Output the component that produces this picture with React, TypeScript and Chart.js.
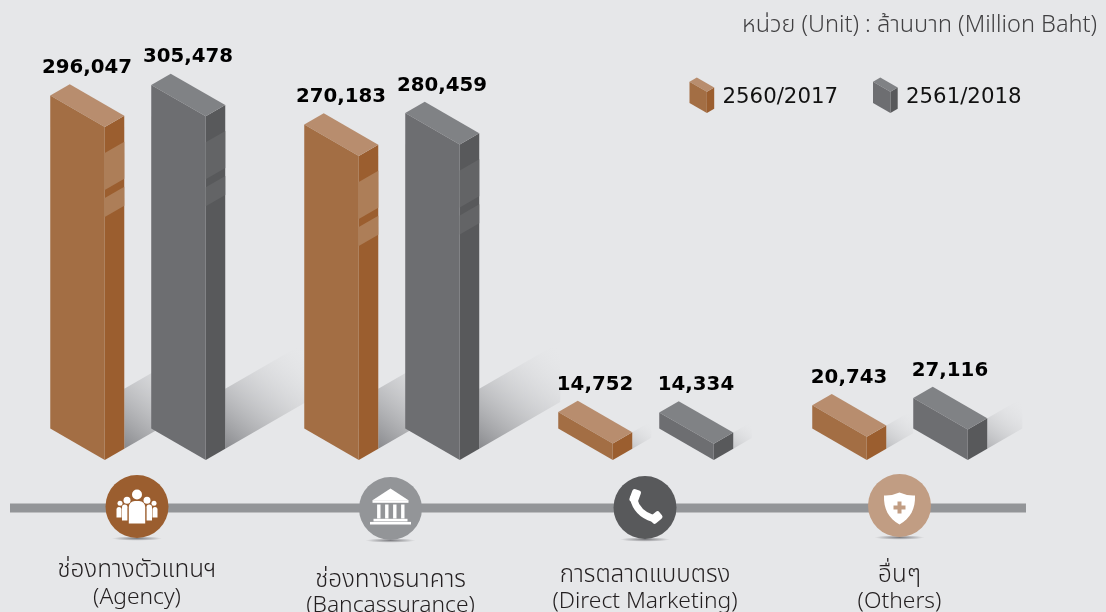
import React, { useEffect, useRef } from "react";
import { Chart, registerables } from "chart.js";

Chart.register(...registerables);

const categoriesTh = ["ช่องทางตัวแทนฯ", "ช่องทางธนาคาร", "การตลาดแบบตรง", "อื่นๆ"];
const categoriesEn = ["(Agency)", "(Bancassurance)", "(Direct Marketing)", "(Others)"];
const series2017 = [296047, 270183, 14752, 20743];
const series2018 = [305478, 280459, 14334, 27116];
const legendLabels = ["2560/2017", "2561/2018"];
const unitText = "หน่วย (Unit) : ล้านบาท (Million Baht)";

const BG = "#e6e7e9";
const THAI = '"Noto Sans Thai", "Noto Sans", "Open Sans", "DejaVu Sans", sans-serif';
const DV = '"DejaVu Sans", sans-serif';
const palette = [
  { front: "#a36e44", side: "#9b5e2f", top: "#b88d6e", band: "#ad7e58" },
  { front: "#6d6e71", side: "#58595b", top: "#808285", band: "#636466" },
];
const iconColors = ["#9b5e2f", "#939598", "#58595b", "#c19d83"];
const iconOffsetY = [-1.5, 0.5, -0.5, -2.5];
const textOffsetX = [9, 8.5, 9, 9.5];
const textYTh = [572, 582, 577, 577];
const textYEn = [599, 607, 603, 603];

const SLOPE = 0.577;
const DEPTH = 19.5;

function poly(ctx: CanvasRenderingContext2D, pts: number[][], fill: string | CanvasGradient) {
  ctx.beginPath();
  pts.forEach((p, i) => (i ? ctx.lineTo(p[0], p[1]) : ctx.moveTo(p[0], p[1])));
  ctx.closePath();
  ctx.fillStyle = fill;
  ctx.fill();
}

function drawBlock(
  ctx: CanvasRenderingContext2D,
  xl: number,
  xr: number,
  yTop: number,
  yBase: number,
  depth: number,
  c: (typeof palette)[0],
  bands: boolean
) {
  const rise = (xr - xl) * SLOPE;
  const dy = depth * SLOPE;
  poly(ctx, [[xr, yTop], [xr + depth, yTop - dy], [xr + depth, yBase - dy], [xr, yBase]], c.side);
  if (bands) {
    const band = (a: number, b: number) =>
      poly(ctx, [[xr, yTop + a], [xr + depth, yTop + a - dy], [xr + depth, yTop + b - dy], [xr, yTop + b]], c.band);
    band(26, 63);
    band(71, 90);
  }
  poly(ctx, [[xl, yTop - rise], [xl + depth, yTop - rise - dy], [xr + depth, yTop - dy], [xr, yTop]], c.top);
  poly(ctx, [[xl, yTop - rise], [xr, yTop], [xr, yBase], [xl, yBase - rise]], c.front);
}

function drawShadow(ctx: CanvasRenderingContext2D, x: number, yBase: number, barH: number) {
  const h = Math.min(barH, 60);
  const len = h * (h < 60 ? 1.15 : 1.35);
  const yb = yBase - DEPTH * SLOPE;
  const rise = len * SLOPE;
  const g = ctx.createLinearGradient(x, yb, x + len, yb - rise - h * 0.9);
  const a = 0.08 + 0.67 * (h / 60);
  g.addColorStop(0, `rgba(105,106,110,${a})`);
  g.addColorStop(1, "rgba(230,231,233,0)");
  poly(ctx, [[x, yb], [x, yb - h], [x + len, yb - h - rise], [x + len, yb - rise]], g);
}

function iconPeople(ctx: CanvasRenderingContext2D) {
  const circle = (x: number, y: number, r: number) => {
    ctx.beginPath();
    ctx.arc(x, y, r, 0, Math.PI * 2);
    ctx.fill();
  };
  const body = (x0: number, x1: number, top: number, bot: number) => {
    ctx.beginPath();
    ctx.roundRect(x0, top, x1 - x0, bot - top, [Math.min(6, (x1 - x0) / 2), Math.min(6, (x1 - x0) / 2), 0, 0]);
    ctx.fill();
  };
  [-1, 1].forEach((s) => {
    circle(s * 17, -3.3, 2.5);
    circle(s * 10, -6.3, 3.5);
    body(s > 0 ? 15.5 : -20.5, s > 0 ? 20.5 : -15.5, 0.5, 11);
    body(s > 0 ? 9.5 : -15, s > 0 ? 15 : -9.5, -2, 14);
  });
  circle(0, -12, 5);
  ctx.save();
  ctx.strokeStyle = iconColors[0];
  ctx.lineWidth = 1.2;
  ctx.beginPath();
  ctx.roundRect(-8.6, -5.5, 17.2, 23, [7, 7, 0, 0]);
  ctx.stroke();
  ctx.restore();
  body(-8.2, 8.2, -5.5, 17);
}

function iconBank(ctx: CanvasRenderingContext2D) {
  ctx.beginPath();
  ctx.moveTo(0, -20);
  ctx.lineTo(18, -8.3);
  ctx.lineTo(-18, -8.3);
  ctx.closePath();
  ctx.fill();
  ctx.fillRect(-18, -8.3, 36, 2.6);
  [-11.7, -3.7, 4.3, 12.3].forEach((x) => ctx.fillRect(x - 1.7, -4, 3.4, 14));
  ctx.fillRect(-17, 10.3, 34, 2.6);
  ctx.fillRect(-20.5, 13.4, 41, 2.6);
}

function iconPhone(ctx: CanvasRenderingContext2D) {
  ctx.strokeStyle = "#fff";
  ctx.lineCap = "round";
  ctx.lineWidth = 7;
  ctx.beginPath();
  ctx.moveTo(-11.5, -9);
  ctx.quadraticCurveTo(-8, 6, 8, 11);
  ctx.stroke();
  ctx.save();
  ctx.translate(-10, -11);
  ctx.rotate(0.35);
  ctx.beginPath();
  ctx.roundRect(-4.5, -7, 9, 13, 2.5);
  ctx.fill();
  ctx.restore();
  ctx.save();
  ctx.translate(11, 10);
  ctx.rotate(0.9);
  ctx.beginPath();
  ctx.roundRect(-4.5, -6, 9, 12, 2.5);
  ctx.fill();
  ctx.restore();
}

function iconShield(ctx: CanvasRenderingContext2D, cross: string) {
  ctx.beginPath();
  ctx.moveTo(0, -13);
  ctx.quadraticCurveTo(8, -9.5, 15.5, -10);
  ctx.bezierCurveTo(16, 3, 11, 13, 0, 19);
  ctx.bezierCurveTo(-11, 13, -16, 3, -15.5, -10);
  ctx.quadraticCurveTo(-8, -9.5, 0, -13);
  ctx.closePath();
  ctx.fill();
  ctx.fillStyle = cross;
  ctx.fillRect(-6, 0, 12, 4);
  ctx.fillRect(-2, -4, 4, 12);
}

const infographic = {
  id: "infographic",
  beforeDatasetsDraw(chart: any) {
    const { ctx, scales } = chart;
    const x = scales.x;
    ctx.save();
    ctx.fillStyle = BG;
    ctx.fillRect(0, 0, chart.width, chart.height);

    // shadows first, so bars stand on top of them
    chart.data.datasets.forEach((_: any, di: number) => {
      chart.getDatasetMeta(di).data.forEach((bar: any) => {
        const p = bar.getProps(["x", "y", "base", "width"], true);
        drawShadow(ctx, p.x + p.width / 2 + DEPTH, p.base, p.base - p.y);
      });
    });

    // bars
    chart.data.datasets.forEach((_: any, di: number) => {
      chart.getDatasetMeta(di).data.forEach((bar: any) => {
        const p = bar.getProps(["x", "y", "base", "width"], true);
        const h = p.base - p.y;
        drawBlock(ctx, p.x - p.width / 2, p.x + p.width / 2, p.y, p.base, DEPTH, palette[di], h > 100);
      });
    });

    // value labels
    ctx.textAlign = "center";
    ctx.textBaseline = "middle";
    ctx.font = `bold 19.8px ${DV}`;
    ctx.fillStyle = "#000";
    chart.data.datasets.forEach((ds: any, di: number) => {
      chart.getDatasetMeta(di).data.forEach((bar: any, i: number) => {
        const p = bar.getProps(["x", "y", "base", "width"], true);
        ctx.fillText(ds.data[i].toLocaleString("en-US"), p.x + 9.5, p.y - 59);
      });
    });

    // timeline
    const lineY = 508;
    ctx.fillStyle = "#939598";
    ctx.fillRect(10, lineY - 4.5, 1016, 9);

    // icons + category labels
    categoriesTh.forEach((_, i) => {
      const cx = x.getPixelForValue(i) + textOffsetX[i];
      const cy = lineY + iconOffsetY[i];
      // little ground shadow
      ctx.save();
      ctx.translate(cx, cy + 32);
      ctx.scale(1, 0.09);
      const rg = ctx.createRadialGradient(0, 0, 0, 0, 0, 25);
      rg.addColorStop(0, "rgba(90,90,95,0.75)");
      rg.addColorStop(1, "rgba(90,90,95,0)");
      ctx.fillStyle = rg;
      ctx.beginPath();
      ctx.arc(0, 0, 25, 0, Math.PI * 2);
      ctx.fill();
      ctx.restore();

      ctx.fillStyle = iconColors[i];
      ctx.beginPath();
      ctx.arc(cx, cy, 31.5, 0, Math.PI * 2);
      ctx.fill();

      ctx.save();
      ctx.translate(cx, cy);
      ctx.fillStyle = "#fff";
      if (i === 0) iconPeople(ctx);
      if (i === 1) iconBank(ctx);
      if (i === 2) iconPhone(ctx);
      if (i === 3) iconShield(ctx, iconColors[3]);
      ctx.restore();

      ctx.fillStyle = "#231f20";
      ctx.font = `300 24.2px ${THAI}`;
      ctx.textAlign = "center";
      ctx.fillText(categoriesTh[i], cx, textYTh[i]);
      ctx.font = `300 22.8px ${THAI}`;
      ctx.fillText(categoriesEn[i], cx, textYEn[i]);
    });

    // unit
    ctx.textAlign = "right";
    ctx.font = `300 23.5px ${THAI}`;
    ctx.fillStyle = "#414042";
    ctx.fillText(unitText, 1097, 27);

    // legend
    const legendX = [689.5, 873];
    legendLabels.forEach((label, i) => {
      const xl = legendX[i];
      drawBlock(ctx, xl, xl + 17.4, 91.7, 113, 7.3, palette[i], false);
      ctx.textAlign = "left";
      ctx.font = `21.3px ${DV}`;
      ctx.fillStyle = "#111";
      ctx.fillText(label, xl + 33, 97);
    });
    ctx.restore();
  },
};

export default function App() {
  const ref = useRef<HTMLCanvasElement>(null);
  useEffect(() => {
    const chart = new Chart(ref.current!, {
      type: "bar",
      data: {
        labels: categoriesEn,
        datasets: [
          { label: legendLabels[0], data: series2017, backgroundColor: "rgba(0,0,0,0)" },
          { label: legendLabels[1], data: series2018, backgroundColor: "rgba(0,0,0,0)" },
        ],
      },
      options: {
        responsive: false,
        animation: false,
        layout: { padding: { left: 1, right: 89, top: 10, bottom: 152 } },
        datasets: { bar: { categoryPercentage: 0.795, barPercentage: 0.54 } },
        plugins: { legend: { display: false }, tooltip: { enabled: false }, title: { display: false } },
        scales: {
          x: { display: false, grid: { display: false } },
          y: { display: false, min: 0, max: 400000, grid: { display: false } },
        },
      },
      plugins: [infographic],
    } as any);
    return () => chart.destroy();
  }, []);
  return (
    <div style={{ position: "absolute", left: 0, top: 0, width: 1106, height: 612, background: BG }}>
      <canvas ref={ref} width={1106} height={612} style={{ display: "block" }} />
    </div>
  );
}
